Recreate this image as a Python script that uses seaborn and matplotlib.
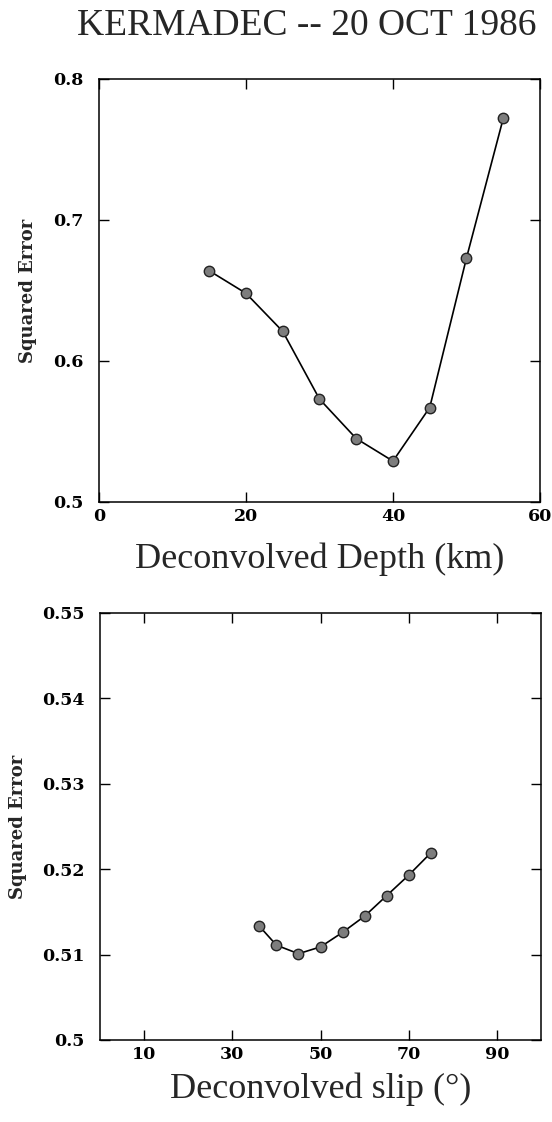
import numpy as np
import pandas as pd
import matplotlib
matplotlib.use("Agg")
import matplotlib.pyplot as plt
import seaborn as sns
from matplotlib.ticker import FuncFormatter

# values
depth = [15, 20, 25, 30, 35, 40, 45, 50, 55]
depth_err = [0.664, 0.648, 0.621, 0.573, 0.545, 0.529, 0.567, 0.673, 0.772]

slip = [36, 40, 45, 50, 55, 60, 65, 70, 75]
slip_err = [0.5134, 0.5111, 0.5101, 0.5109, 0.5126, 0.5145, 0.5169, 0.5193, 0.5219]

depth_ticks = [0, 20, 40, 60]
depth_yticks = [0.5, 0.6, 0.7, 0.8]
slip_ticks = [10, 30, 50, 70, 90]
slip_yticks = [0.5, 0.51, 0.52, 0.53, 0.54, 0.55]

sns.set_style("ticks")
plt.rcParams['font.family'] = ['DejaVu Serif']

df1 = pd.DataFrame({"depth": depth, "err": depth_err})
df2 = pd.DataFrame({"slip": slip, "err": slip_err})

fig = plt.figure(figsize=(5.52, 11.22), dpi=100)
ax1 = fig.add_axes([0.1793, 0.5526, 0.7989, 0.3770])
ax2 = fig.add_axes([0.1812, 0.0731, 0.7989, 0.3806])

serif = ['Liberation Serif', 'DejaVu Serif']

def style(ax):
    for s in ax.spines.values():
        s.set_linewidth(1.1)
        s.set_color("black")
    ax.tick_params(direction="in", top=True, right=True, length=7, width=1.0,
                   labelsize=12.5, colors="black")
    ax.tick_params(axis="y", pad=11)
    ax.tick_params(axis="x", pad=4)
    for t in ax.get_xticklabels() + ax.get_yticklabels():
        t.set_fontweight("bold")

fmt = FuncFormatter(lambda v, p: f"{v:g}")

sns.lineplot(data=df1, x="depth", y="err", ax=ax1, color="black", lw=1.2,
             marker="o", markersize=7.5, markerfacecolor="#7d7d7d",
             markeredgecolor="#222222", markeredgewidth=1.0)
ax1.set_xlim(0, 60)
ax1.set_ylim(0.5, 0.8)
ax1.set_xticks(depth_ticks)
ax1.set_yticks(depth_yticks)
ax1.xaxis.set_major_formatter(fmt)
ax1.yaxis.set_major_formatter(fmt)
style(ax1)
ax1.set_xlabel("Deconvolved Depth (km)", family=serif, fontsize=26, labelpad=13)
ax1.set_ylabel("Squared Error", fontsize=13, fontweight="bold", labelpad=12)

sns.lineplot(data=df2, x="slip", y="err", ax=ax2, color="black", lw=1.2,
             marker="o", markersize=7.5, markerfacecolor="#7d7d7d",
             markeredgecolor="#222222", markeredgewidth=1.0)
ax2.set_xlim(0, 100)
ax2.set_ylim(0.5, 0.55)
ax2.set_xticks(slip_ticks)
ax2.set_yticks(slip_yticks)
ax2.xaxis.set_major_formatter(fmt)
ax2.yaxis.set_major_formatter(fmt)
style(ax2)
ax2.set_xlabel("Deconvolved slip (°)", family=serif, fontsize=26, labelpad=7)
ax2.set_ylabel("Squared Error", fontsize=13, fontweight="bold", labelpad=11)

fig.text(0.556, 1 - 35 / 1122, "KERMADEC -- 20 OCT 1986", family=serif,
         fontsize=27, ha="center", va="baseline")

fig.savefig("out.png", dpi=100)
